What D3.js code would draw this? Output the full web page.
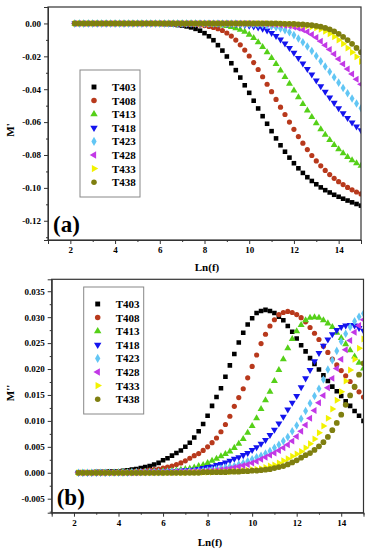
<!DOCTYPE html>
<html>
<head>
<meta charset="utf-8">
<script src="https://cdn.jsdelivr.net/npm/d3@7"></script>
<style>
  body { margin: 0; background: #fff; }
  svg text { font-family: 'Liberation Serif', 'Times New Roman', serif; font-weight: bold; fill: #000; }
</style>
</head>
<body>
<div id="chart"></div>
<script>
// Ln(f) sampling, shared by every series
const lnF = [2.2, 2.4, 2.6, 2.8, 3.0, 3.2, 3.4, 3.6, 3.8, 4.0,
  4.2, 4.4, 4.6, 4.8, 5.0, 5.2, 5.4, 5.6, 5.8, 6.0,
  6.2, 6.4, 6.6, 6.8, 7.0, 7.2, 7.4, 7.6, 7.8, 8.0,
  8.2, 8.4, 8.6, 8.8, 9.0, 9.2, 9.4, 9.6, 9.8, 10.0,
  10.2, 10.4, 10.6, 10.8, 11.0, 11.2, 11.4, 11.6, 11.8, 12.0,
  12.2, 12.4, 12.6, 12.8, 13.0, 13.2, 13.4, 13.6, 13.8, 14.0,
  14.2, 14.4, 14.6, 14.8, 15.0];

const series = ['T403', 'T408', 'T413', 'T418', 'T423', 'T428', 'T433', 'T438'];
const colors = ['#000000', '#b8391c', '#55d018', '#1414ee', '#62c6f4', '#c238e6', '#f2f200', '#7f7f10'];

const xMajor = [2, 4, 6, 8, 10, 12, 14];
const xMinor = [1, 3, 5, 7, 9, 11, 13, 15];
const yMajorA = [-0.12, -0.10, -0.08, -0.06, -0.04, -0.02, 0.00];
const yMinorA = [-0.13, -0.11, -0.09, -0.07, -0.05, -0.03, -0.01];
const yMajorB = [-0.005, 0.000, 0.005, 0.010, 0.015, 0.020, 0.025, 0.030, 0.035];
const yMinorB = [-0.0075, -0.0025, 0.0025, 0.0075, 0.0125, 0.0175, 0.0225, 0.0275, 0.0325];

// M' (panel a)
const mr403 = [0, 0, 0, 0, 0, 0, 0, 0, 0, 0,
  0, 0, 0, 0, 0, 0, 0, 0, -0.0001, -0.0002,
  -0.0004, -0.0005, -0.0007, -0.0010, -0.0013, -0.0018, -0.0024, -0.0033, -0.0044, -0.0059,
  -0.0078, -0.0102, -0.0132, -0.0165, -0.0201, -0.0242, -0.0284, -0.0329, -0.0376, -0.0422,
  -0.0470, -0.0517, -0.0564, -0.0610, -0.0655, -0.0699, -0.0741, -0.0780, -0.0816, -0.0850,
  -0.0881, -0.0909, -0.0935, -0.0958, -0.0978, -0.0997, -0.1014, -0.1028, -0.1042, -0.1054,
  -0.1066, -0.1077, -0.1088, -0.1098, -0.1108];
const mr408 = [0, 0, 0, 0, 0, 0, 0, 0, 0, 0,
  0, 0, 0, 0, 0, 0, 0, 0, 0, 0,
  0, 0, 0, -0.0001, -0.0002, -0.0004, -0.0005, -0.0007, -0.0010, -0.0013,
  -0.0018, -0.0024, -0.0032, -0.0043, -0.0058, -0.0077, -0.0101, -0.0130, -0.0162, -0.0198,
  -0.0238, -0.0280, -0.0324, -0.0370, -0.0415, -0.0462, -0.0509, -0.0554, -0.0600, -0.0644,
  -0.0688, -0.0728, -0.0767, -0.0803, -0.0836, -0.0866, -0.0894, -0.0919, -0.0942, -0.0962,
  -0.0980, -0.0997, -0.1012, -0.1025, -0.1037];
const mr413 = [0, 0, 0, 0, 0, 0, 0, 0, 0, 0,
  0, 0, 0, 0, 0, 0, 0, 0, 0, 0,
  0, 0, 0, 0, 0, 0, 0, -0.0001, -0.0002, -0.0003,
  -0.0004, -0.0006, -0.0008, -0.0012, -0.0016, -0.0021, -0.0029, -0.0038, -0.0051, -0.0068,
  -0.0089, -0.0114, -0.0143, -0.0175, -0.0210, -0.0247, -0.0286, -0.0326, -0.0367, -0.0408,
  -0.0449, -0.0490, -0.0530, -0.0569, -0.0607, -0.0643, -0.0677, -0.0709, -0.0739, -0.0765,
  -0.0790, -0.0812, -0.0832, -0.0850, -0.0866];
const mr418 = [0, 0, 0, 0, 0, 0, 0, 0, 0, 0,
  0, 0, 0, 0, 0, 0, 0, 0, 0, 0,
  0, 0, 0, 0, 0, 0, 0, 0, 0, 0,
  0, 0, -0.0001, -0.0002, -0.0003, -0.0004, -0.0005, -0.0007, -0.0010, -0.0014,
  -0.0018, -0.0024, -0.0032, -0.0043, -0.0058, -0.0076, -0.0097, -0.0122, -0.0149, -0.0178,
  -0.0210, -0.0243, -0.0277, -0.0311, -0.0347, -0.0382, -0.0416, -0.0450, -0.0483, -0.0516,
  -0.0546, -0.0575, -0.0602, -0.0627, -0.0650];
const mr423 = [0, 0, 0, 0, 0, 0, 0, 0, 0, 0,
  0, 0, 0, 0, 0, 0, 0, 0, 0, 0,
  0, 0, 0, 0, 0, 0, 0, 0, 0, 0,
  0, 0, 0, 0, 0, 0, -0.0001, -0.0002, -0.0003, -0.0003,
  -0.0005, -0.0007, -0.0009, -0.0013, -0.0017, -0.0023, -0.0031, -0.0041, -0.0054, -0.0071,
  -0.0092, -0.0115, -0.0140, -0.0168, -0.0198, -0.0230, -0.0262, -0.0294, -0.0327, -0.0360,
  -0.0393, -0.0425, -0.0456, -0.0487, -0.0516];
const mr428 = [0, 0, 0, 0, 0, 0, 0, 0, 0, 0,
  0, 0, 0, 0, 0, 0, 0, 0, 0, 0,
  0, 0, 0, 0, 0, 0, 0, 0, 0, 0,
  0, 0, 0, 0, 0, 0, 0, 0, 0, 0,
  -0.0001, -0.0002, -0.0002, -0.0003, -0.0005, -0.0006, -0.0009, -0.0012, -0.0016, -0.0022,
  -0.0029, -0.0038, -0.0051, -0.0067, -0.0086, -0.0108, -0.0132, -0.0158, -0.0186, -0.0216,
  -0.0246, -0.0277, -0.0308, -0.0339, -0.0370];
const mr433 = [0, 0, 0, 0, 0, 0, 0, 0, 0, 0,
  0, 0, 0, 0, 0, 0, 0, 0, 0, 0,
  0, 0, 0, 0, 0, 0, 0, 0, 0, 0,
  0, 0, 0, 0, 0, 0, 0, 0, 0, 0,
  0, 0, 0, 0, -0.0001, -0.0002, -0.0002, -0.0003, -0.0005, -0.0006,
  -0.0008, -0.0011, -0.0015, -0.0020, -0.0027, -0.0036, -0.0048, -0.0063, -0.0081, -0.0101,
  -0.0124, -0.0149, -0.0175, -0.0203, -0.0231];
const mr438 = [0, 0, 0, 0, 0, 0, 0, 0, 0, 0,
  0, 0, 0, 0, 0, 0, 0, 0, 0, 0,
  0, 0, 0, 0, 0, 0, 0, 0, 0, 0,
  0, 0, 0, 0, 0, 0, 0, 0, 0, 0,
  0, 0, 0, 0, 0, 0, -0.0001, -0.0002, -0.0002, -0.0003,
  -0.0005, -0.0006, -0.0008, -0.0011, -0.0015, -0.0020, -0.0027, -0.0036, -0.0048, -0.0063,
  -0.0081, -0.0101, -0.0124, -0.0149, -0.0175];

// M'' (panel b)
const mi403 = [0.0001, 0.0001, 0.0001, 0.0001, 0.0002, 0.0002, 0.0002, 0.0003, 0.0003, 0.0003,
  0.0004, 0.0005, 0.0006, 0.0007, 0.0009, 0.0011, 0.0013, 0.0016, 0.0019, 0.0024,
  0.0028, 0.0033, 0.0038, 0.0043, 0.0050, 0.0058, 0.0068, 0.0080, 0.0094, 0.0110,
  0.0129, 0.0146, 0.0163, 0.0185, 0.0207, 0.0229, 0.0251, 0.0270, 0.0286, 0.0298,
  0.0308, 0.0312, 0.0314, 0.0312, 0.0308, 0.0301, 0.0294, 0.0283, 0.0272, 0.0259,
  0.0246, 0.0234, 0.0221, 0.0210, 0.0199, 0.0188, 0.0177, 0.0166, 0.0157, 0.0148,
  0.0138, 0.0129, 0.0119, 0.0110, 0.0100];
const mi408 = [0, 0, 0, 0.0001, 0.0001, 0.0001, 0.0001, 0.0001, 0.0001, 0.0002,
  0.0002, 0.0002, 0.0002, 0.0003, 0.0003, 0.0004, 0.0005, 0.0006, 0.0007, 0.0009,
  0.0011, 0.0013, 0.0016, 0.0019, 0.0023, 0.0028, 0.0033, 0.0037, 0.0043, 0.0050,
  0.0058, 0.0067, 0.0079, 0.0093, 0.0109, 0.0128, 0.0145, 0.0162, 0.0183, 0.0205,
  0.0227, 0.0249, 0.0267, 0.0283, 0.0295, 0.0305, 0.0309, 0.0311, 0.0309, 0.0305,
  0.0299, 0.0291, 0.0280, 0.0269, 0.0257, 0.0244, 0.0232, 0.0219, 0.0208, 0.0197,
  0.0187, 0.0176, 0.0165, 0.0156, 0.0146];
const mi413 = [0, 0, 0, 0, 0, 0, 0, 0, 0, 0.0001,
  0.0001, 0.0001, 0.0001, 0.0001, 0.0001, 0.0002, 0.0002, 0.0002, 0.0002, 0.0003,
  0.0003, 0.0004, 0.0005, 0.0006, 0.0007, 0.0008, 0.0010, 0.0013, 0.0015, 0.0019,
  0.0023, 0.0027, 0.0032, 0.0036, 0.0041, 0.0048, 0.0056, 0.0065, 0.0077, 0.0090,
  0.0105, 0.0123, 0.0140, 0.0156, 0.0177, 0.0198, 0.0219, 0.0240, 0.0258, 0.0273,
  0.0285, 0.0294, 0.0299, 0.0300, 0.0299, 0.0294, 0.0288, 0.0281, 0.0270, 0.0260,
  0.0248, 0.0236, 0.0224, 0.0212, 0.0201];
const mi418 = [0, 0, 0, 0, 0, 0, 0, 0.0001, 0.0001, 0.0001,
  0.0001, 0.0001, 0.0001, 0.0001, 0.0001, 0.0001, 0.0002, 0.0002, 0.0002, 0.0002,
  0.0003, 0.0003, 0.0003, 0.0004, 0.0005, 0.0005, 0.0006, 0.0007, 0.0009, 0.0011,
  0.0012, 0.0015, 0.0017, 0.0020, 0.0023, 0.0027, 0.0030, 0.0034, 0.0038, 0.0044,
  0.0049, 0.0056, 0.0063, 0.0073, 0.0083, 0.0095, 0.0108, 0.0122, 0.0135, 0.0148,
  0.0165, 0.0182, 0.0198, 0.0215, 0.0231, 0.0245, 0.0257, 0.0267, 0.0275, 0.0281,
  0.0284, 0.0285, 0.0284, 0.0279, 0.0274];
const mi423 = [0, 0, 0, 0, 0, 0, 0, 0, 0, 0,
  0, 0, 0.0001, 0.0001, 0.0001, 0.0001, 0.0001, 0.0001, 0.0001, 0.0001,
  0.0002, 0.0002, 0.0002, 0.0002, 0.0002, 0.0003, 0.0003, 0.0004, 0.0004, 0.0005,
  0.0006, 0.0007, 0.0008, 0.0010, 0.0012, 0.0013, 0.0016, 0.0019, 0.0022, 0.0026,
  0.0030, 0.0033, 0.0037, 0.0042, 0.0048, 0.0054, 0.0061, 0.0069, 0.0080, 0.0091,
  0.0104, 0.0119, 0.0134, 0.0148, 0.0162, 0.0180, 0.0199, 0.0217, 0.0235, 0.0253,
  0.0268, 0.0281, 0.0292, 0.0301, 0.0307];
const mi428 = [0, 0, 0, 0, 0, 0, 0, 0, 0, 0,
  0, 0, 0, 0, 0.0001, 0.0001, 0.0001, 0.0001, 0.0001, 0.0001,
  0.0001, 0.0001, 0.0002, 0.0002, 0.0002, 0.0002, 0.0003, 0.0003, 0.0003, 0.0004,
  0.0004, 0.0005, 0.0006, 0.0007, 0.0008, 0.0010, 0.0012, 0.0014, 0.0016, 0.0019,
  0.0022, 0.0026, 0.0030, 0.0034, 0.0038, 0.0043, 0.0048, 0.0054, 0.0061, 0.0070,
  0.0080, 0.0092, 0.0105, 0.0120, 0.0135, 0.0149, 0.0164, 0.0182, 0.0201, 0.0219,
  0.0237, 0.0255, 0.0271, 0.0284, 0.0295];
const mi433 = [0, 0, 0, 0, 0, 0, 0, 0, 0, 0,
  0, 0, 0, 0, 0, 0, 0, 0, 0, 0,
  0, 0, 0, 0, 0, 0.0001, 0.0001, 0.0001, 0.0001, 0.0001,
  0.0001, 0.0002, 0.0002, 0.0002, 0.0002, 0.0003, 0.0003, 0.0004, 0.0005, 0.0006,
  0.0007, 0.0008, 0.0010, 0.0013, 0.0015, 0.0019, 0.0023, 0.0027, 0.0032, 0.0036,
  0.0041, 0.0048, 0.0056, 0.0065, 0.0077, 0.0090, 0.0105, 0.0123, 0.0140, 0.0156,
  0.0177, 0.0198, 0.0219, 0.0240, 0.0258];
const mi438 = [0, 0, 0, 0, 0, 0, 0, 0, 0, 0,
  0, 0, 0, 0, 0, 0, 0, 0, 0, 0,
  0, 0, 0, 0, 0, 0, 0, 0, 0.0001, 0.0001,
  0.0001, 0.0001, 0.0001, 0.0001, 0.0002, 0.0002, 0.0002, 0.0003, 0.0003, 0.0004,
  0.0004, 0.0005, 0.0006, 0.0007, 0.0009, 0.0011, 0.0013, 0.0016, 0.0020, 0.0024,
  0.0029, 0.0034, 0.0038, 0.0044, 0.0051, 0.0059, 0.0069, 0.0082, 0.0096, 0.0112,
  0.0131, 0.0149, 0.0166, 0.0189, 0.0211];

const mReal = [mr403, mr408, mr413, mr418, mr423, mr428, mr433, mr438];
const mImag = [mi403, mi408, mi413, mi418, mi423, mi428, mi433, mi438];

// marker shape per series (Origin style)
const shapes = [
  { type: d3.symbolSquare, rot: 0 },
  { type: d3.symbolCircle, rot: 0 },
  { type: d3.symbolTriangle, rot: 0 },
  { type: d3.symbolTriangle, rot: 180 },
  { type: d3.symbolDiamond, rot: 0 },
  { type: d3.symbolTriangle, rot: -90 },
  { type: d3.symbolTriangle, rot: 90 },
  { type: d3.symbolCircle, rot: 0 }
];

const svg = d3.select('#chart')
  .append('svg')
  .attr('width', 371)
  .attr('height', 550);

function fmtDash(spec) {
  const f = d3.format(spec);
  return d => f(d).replace('\u2212', '-');
}

function drawPanel(p) {
  const x = d3.scaleLinear().domain([1, 15]).range([p.left, p.right]);
  const y = d3.scaleLinear().domain(p.yDomain).range([p.bottom, p.top]);
  const g = svg.append('g');

  g.append('clipPath').attr('id', p.id + '-clip')
    .append('rect')
    .attr('x', p.left).attr('y', p.top)
    .attr('width', p.right - p.left).attr('height', p.bottom - p.top);

  // data markers
  const plot = g.append('g').attr('clip-path', `url(#${p.id}-clip)`);
  series.forEach((name, i) => {
    const pts = lnF.map((v, k) => [v, p.values[i][k]]).filter(d => d[1] !== undefined);
    plot.append('g')
      .selectAll('path')
      .data(pts)
      .join('path')
      .attr('transform', d => `translate(${x(d[0])},${y(d[1])}) rotate(${shapes[i].rot})`)
      .attr('d', d3.symbol(shapes[i].type, i === 7 ? 26 : 21))
      .attr('fill', colors[i]);
  });

  // frame
  g.append('rect')
    .attr('x', p.left).attr('y', p.top)
    .attr('width', p.right - p.left).attr('height', p.bottom - p.top)
    .attr('fill', 'none').attr('stroke', '#333').attr('stroke-width', 1.2);

  // axes
  const xAxis = g.append('g').attr('transform', `translate(0,${p.bottom})`)
    .call(d3.axisBottom(x).tickValues(xMajor).tickSize(4).tickPadding(3).tickFormat(d3.format('d')));
  g.append('g').attr('transform', `translate(0,${p.bottom})`)
    .call(d3.axisBottom(x).tickValues(xMinor).tickSize(2).tickFormat(''))
    .call(s => s.select('.domain').remove());

  const yAxis = g.append('g').attr('transform', `translate(${p.left},0)`)
    .call(d3.axisLeft(y).tickValues(p.yMajor).tickSize(4).tickPadding(3).tickFormat(fmtDash(p.fmt)));
  g.append('g').attr('transform', `translate(${p.left},0)`)
    .call(d3.axisLeft(y).tickValues(p.yMinor).tickSize(2).tickFormat(''))
    .call(s => s.select('.domain').remove());

  [xAxis, yAxis].forEach(a => {
    a.selectAll('text').attr('font-size', 9).attr('font-family', null);
    a.select('.domain').attr('stroke', '#333');
  });
  g.selectAll('.tick line').attr('stroke', '#333');

  // titles
  g.append('text')
    .attr('x', p.xTitleX).attr('y', p.xTitleY)
    .attr('text-anchor', 'middle')
    .attr('font-size', 11)
    .text('Ln(f)');

  g.append('text')
    .attr('transform', `translate(${p.yTitleX},${p.yTitleY}) rotate(-90)`)
    .attr('text-anchor', 'middle')
    .attr('font-size', 11)
    .text(p.yTitle);

  g.append('text')
    .attr('x', p.left + 5).attr('y', p.bottom - 8)
    .attr('font-size', 23)
    .text(p.tag);

  // legend
  const lg = g.append('g').attr('transform', `translate(${p.left + 32},${p.legendTop})`);
  lg.append('rect')
    .attr('width', 60).attr('height', 127)
    .attr('fill', '#fff').attr('stroke', '#888').attr('stroke-width', 1);
  series.forEach((name, i) => {
    const row = lg.append('g').attr('transform', `translate(0,${17 + i * 13.6})`);
    row.append('path')
      .attr('transform', `translate(14,0) rotate(${shapes[i].rot})`)
      .attr('d', d3.symbol(shapes[i].type, 24))
      .attr('fill', colors[i]);
    row.append('text')
      .attr('x', 32).attr('y', 4)
      .attr('font-size', 11)
      .text(name);
  });
}

drawPanel({
  id: 'pa', left: 48, right: 361, top: 7, bottom: 240,
  yDomain: [-0.1317, 0.0100], yMajor: yMajorA, yMinor: yMinorA, fmt: '.2f',
  values: mReal, yTitle: "M'", tag: '(a)',
  xTitleX: 207, xTitleY: 271, yTitleX: 14, yTitleY: 130,
  legendTop: 70
});

drawPanel({
  id: 'pb', left: 51.7, right: 363.5, top: 279.3, bottom: 512.7,
  yDomain: [-0.0077, 0.0373], yMajor: yMajorB, yMinor: yMinorB, fmt: '.3f',
  values: mImag, yTitle: "M''", tag: '(b)',
  xTitleX: 210, xTitleY: 546, yTitleX: 14, yTitleY: 393,
  legendTop: 287
});
</script>
</body>
</html>
